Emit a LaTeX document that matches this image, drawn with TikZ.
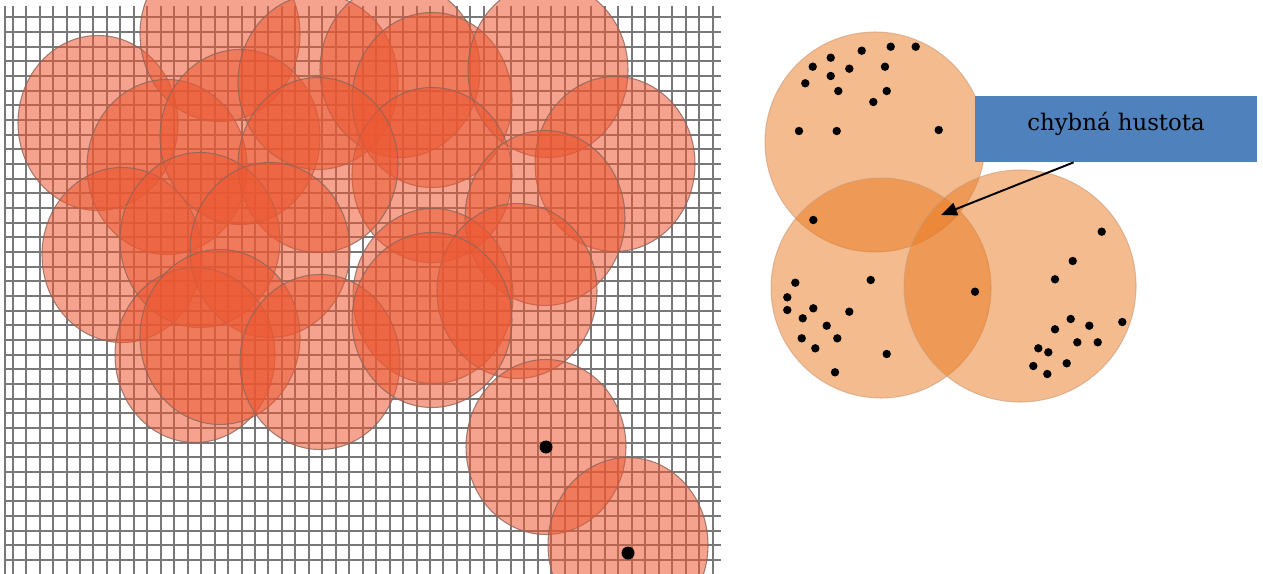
\documentclass[tikz,border=0pt]{standalone}
\usepackage{fontspec}
\newfontfamily\labelfont{DejaVu Serif}
\usetikzlibrary{arrows.meta,calc}
\definecolor{cellline}{RGB}{120,120,120}
\definecolor{blobred}{RGB}{236,88,50}
\definecolor{blobedge}{RGB}{140,100,90}
\definecolor{peach}{RGB}{232,120,30}
\definecolor{peachedge}{RGB}{205,155,120}
\definecolor{tagblue}{RGB}{79,129,189}

\begin{document}
\begin{tikzpicture}[x=0.02cm,y=-0.02cm,
  cell/.style={draw=cellline,line width=0.04cm},
  blob/.style={fill=blobred,fill opacity=0.55,draw=blobedge,draw opacity=0.8,line width=0.6pt},
  zone/.style={fill=peach,fill opacity=0.5,draw=peachedge,draw opacity=0.6,line width=0.6pt},
  tag/.style={fill=tagblue,minimum width=5.64cm,minimum height=1.32cm,font=\labelfont\fontsize{13}{16}\selectfont,text depth=0.31cm},
  arr/.style={-{Triangle[length=0.32cm,width=0.26cm]},line width=1.1pt}
]
\useasboundingbox (0,0) rectangle (1263,574);

% left: grid
\draw[cell] (5,6) -- (5,574);
\foreach \k in {0,...,52}
  \draw[cell] ({12.7+13.46*\k},6) -- ({12.7+13.46*\k},574);
\foreach \k in {0,...,37}
  \draw[cell] (5,{17.3+14.67*\k}) -- (721,{17.3+14.67*\k});

% left: covering circles
\foreach \cx/\cy in {98/123,220/34,167/167,240/137,318/82,400/70,432/100,548/70,
                     615/164,432/175,318/165,545/218,122/255,200/240,270/250,433/296,
                     517/291,195/355,220/337,320/362,432/320,546/447,628/545}
  \draw[blob] (\cx,\cy) ellipse [x radius=80,y radius=87.5];
\fill (546,447) circle [radius=6.5];
\fill (628,553) circle [radius=6.5];

% right: three clusters
\draw[zone] (875,142) circle [radius=110];
\draw[zone] (881,288) circle [radius=110];
\draw[zone] (1020,286) circle [radius=116];
\foreach \px/\py in {861.7/50.7,890.7/46.7,915.7/46.7,830.7/57.7,812.7/66.7,849.3/68.7,
                     885/66.7,830.7/76,805.3/83.3,838.3/91,886.7/91,873.3/102,799/131,
                     836.7/131,938.7/130,813.3/220,1101.7/231.7,1072.7/261,1055/279.3,
                     975/291.7,870.7/280,795.3/282.7,787.3/297.3,787.3/310,813.3/308.3,
                     849.3/311.7,802.7/318.3,826.7/325.7,837.3/338.3,801.7/338.3,
                     815.3/348.3,886.7/354,835/372.3,1070.7/319,1055/329.3,1089.3/325.7,
                     1122.3/322,1077.3/342.3,1097.7/342.3,1038.3/348.3,1048.3/352.3,
                     1066.7/363.3,1033.3/366,1047.3/374}
  \fill (\px,\py) circle [radius=4.2];

% label and arrow
\node[tag] (tag) at (1116,129) {chybná hustota};
\coordinate (errspot) at (941,215);
\draw[arr] ($(tag.south west)!0.35!(tag.south east)$) -- (errspot);
\end{tikzpicture}
\end{document}
